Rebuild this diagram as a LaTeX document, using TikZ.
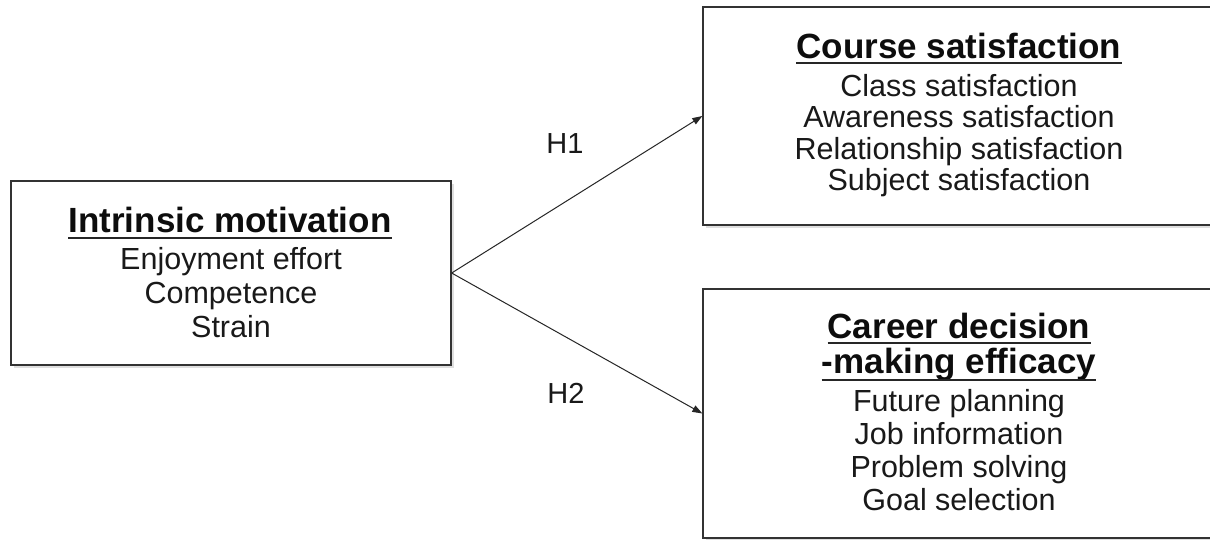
\documentclass[tikz,border=0pt]{standalone}
\usepackage{fontspec}
\setmainfont{Liberation Sans}
\usetikzlibrary{arrows.meta,shadows}
\begin{document}
\begin{tikzpicture}[x=1pt,y=-1pt]
\tikzset{
  box/.style={draw=black!80, line width=1.3pt, fill=white, inner sep=0pt,
    drop shadow={opacity=0.25, shadow xshift=3pt, shadow yshift=-3pt}},
  ttl/.style={font=\fontsize{35}{35}\selectfont\bfseries, anchor=base, inner sep=0pt, text=black!95},
  item/.style={font=\fontsize{30.5}{30.5}\selectfont, anchor=base, inner sep=0pt, text=black!90},
  lbl/.style={font=\fontsize{29}{29}\selectfont, anchor=base, inner sep=0pt, text=black!90},
  uline/.style={line width=1.9pt, black!85},
  link/.style={line width=1pt, black!85, -{Triangle[length=10pt,width=7pt]}}
}
\useasboundingbox (0,0) rectangle (1210,539);
\fill[white] (0,0) rectangle (1210,539);
\begin{scope}
\clip (0,0) rectangle (1210,539);
% boxes
\node[box, minimum width=440pt, minimum height=184pt] (im) at (231,273) {};
\node[box, minimum width=513pt, minimum height=218pt] (cs) at (959.5,116) {};
\node[box, minimum width=513pt, minimum height=249pt] (cd) at (959.5,413.5) {};
\end{scope}
% left box text
\node[ttl] (imt) at (230,232) {Intrinsic motivation};
\draw[uline] ([yshift=-6pt]imt.base west) -- ([yshift=-6pt]imt.base east);
\node[item] (im1) at (231,269) {Enjoyment effort};
\node[item] (im2) at (231,303) {Competence};
\node[item] (im3) at (231,337) {Strain};
% top right text
\node[ttl] (cst) at (959,58) {Course satisfaction};
\draw[uline] ([yshift=-5pt]cst.base west) -- ([yshift=-5pt]cst.base east);
\node[item] (cs1) at (959,96) {Class satisfaction};
\node[item] (cs2) at (959,127.5) {Awareness satisfaction};
\node[item] (cs3) at (959,159) {Relationship satisfaction};
\node[item] (cs4) at (959,190.5) {Subject satisfaction};
% bottom right text
\node[ttl] (cdt1) at (959,338) {Career decision};
\draw[uline] ([yshift=-5pt]cdt1.base west) -- ([yshift=-5pt]cdt1.base east);
\node[ttl] (cdt2) at (959,373.5) {-making efficacy};
\draw[uline] ([yshift=-6.5pt]cdt2.base west) -- ([yshift=-6.5pt]cdt2.base east);
\node[item] (cd1) at (959,411) {Future planning};
\node[item] (cd2) at (959,444) {Job information};
\node[item] (cd3) at (959,477) {Problem solving};
\node[item] (cd4) at (959,510) {Goal selection};
% connectors
\draw[link] (im.east) -- (cs.west);
\draw[link] (im.east) -- (cd.west);
\node[lbl] (h1) at (565,153) {H1};
\node[lbl] (h2) at (566,403) {H2};
\end{tikzpicture}
\end{document}
